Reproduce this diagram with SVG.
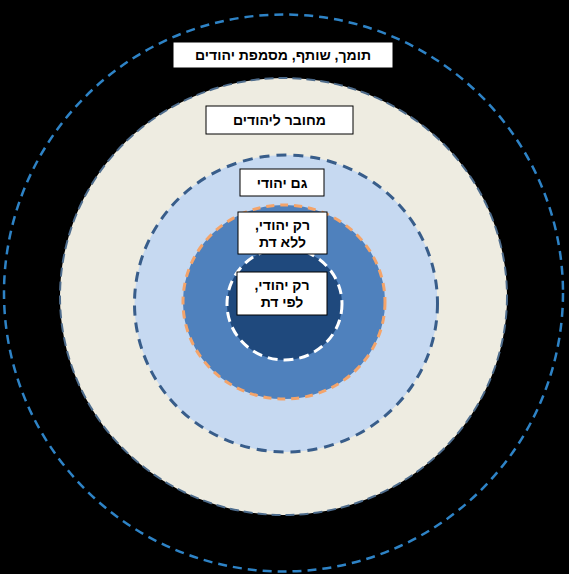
<svg xmlns="http://www.w3.org/2000/svg" width="569" height="574" viewBox="0 0 569 574">
  <style>
    .box { fill: #ffffff; stroke: #000000; stroke-width: 1; }
    .lbl { font-family: "Liberation Sans", "DejaVu Sans", sans-serif; font-size: 14px; font-weight: bold; fill: #000000; text-anchor: middle; direction: rtl; unicode-bidi: embed; }
  </style>
  <rect x="0" y="0" width="569" height="574" fill="#000000"/>
  <g id="rings">
    <ellipse id="ring-outer" cx="283.5" cy="293" rx="279.5" ry="278.5" fill="none" stroke="#2e83c6" stroke-width="2.5" stroke-dasharray="9,6"/>
    <ellipse id="ring-beige" cx="283.5" cy="296.5" rx="223.5" ry="218.5" fill="#eeece1" stroke="#4e6c8c" stroke-width="2" stroke-dasharray="9,5"/>
    <ellipse id="ring-lightblue" cx="286" cy="303.5" rx="151.5" ry="148.5" fill="#c6d9f1" stroke="#385d8a" stroke-width="3" stroke-dasharray="10,7"/>
    <ellipse id="ring-mid" cx="284" cy="302" rx="101" ry="97" fill="#4f81bd" stroke="#f4a46a" stroke-width="3" stroke-dasharray="8,6"/>
    <ellipse id="ring-inner" cx="284.5" cy="304" rx="57.5" ry="56" fill="#1f497d" stroke="#ffffff" stroke-width="3" stroke-dasharray="10,6"/>
  </g>
  <g id="node-supporter">
    <rect class="box" x="173" y="42" width="220" height="26"/>
    <text class="lbl" x="283" y="60">תומך, שותף, מסמפת יהודים</text>
  </g>
  <g id="node-connected">
    <rect class="box" x="206" y="106" width="147" height="28"/>
    <text class="lbl" x="279.5" y="125">מחובר ליהודים</text>
  </g>
  <g id="node-also">
    <rect class="box" x="240" y="169" width="84" height="27"/>
    <text class="lbl" x="282" y="187.5">גם יהודי</text>
  </g>
  <g id="node-only-secular">
    <rect class="box" x="238" y="212" width="89" height="42"/>
    <text class="lbl" x="282.5" y="230">רק יהודי,</text>
    <text class="lbl" x="282.5" y="247">ללא דת</text>
  </g>
  <g id="node-only-religious">
    <rect class="box" x="237" y="272" width="90" height="43"/>
    <text class="lbl" x="282" y="290">רק יהודי,</text>
    <text class="lbl" x="282" y="307">לפי דת</text>
  </g>
  <g id="connectors"/>
</svg>
